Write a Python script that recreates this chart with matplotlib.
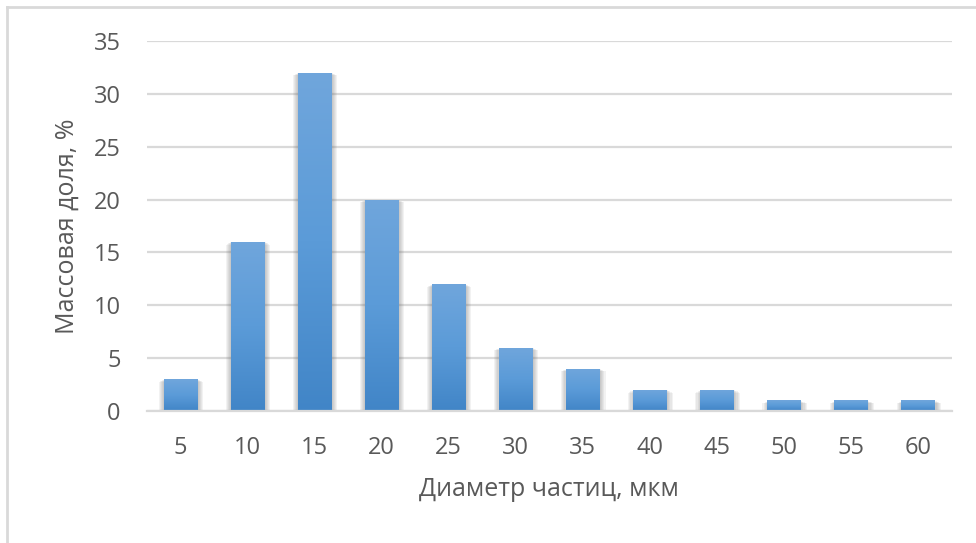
import matplotlib.pyplot as plt
import numpy as np
from matplotlib.colors import LinearSegmentedColormap
from matplotlib.lines import Line2D
from matplotlib.patches import Rectangle

# Particle size distribution
diameters = ['5', '10', '15', '20', '25', '30', '35', '40', '45', '50', '55', '60']
mass_share = [3, 16, 32, 20, 12, 6, 4, 2, 2, 1, 1, 1]

TEXT = '#595959'
GRID = '#d9d9d9'

plt.rcParams['font.family'] = ['Open Sans', 'DejaVu Sans']

fig = plt.figure(figsize=(9.76, 5.43), dpi=100)
ax = fig.add_axes([0.1506, 0.243, 0.8245, 0.6815])

x = np.arange(len(diameters))
width = 0.5
bars = ax.bar(x, mass_share, width=width, color='#5b9bd5', zorder=3)

# soft shadow along the sides of each bar
for b in bars:
    bx, by = b.get_x(), b.get_y()
    bw, bh = b.get_width(), b.get_height()
    for k in range(1, 6):
        dx = 0.016 * k
        ax.add_patch(Rectangle((bx - dx + 0.008, by), bw + 2 * dx, bh - 0.05 * k,
                               facecolor='#6f6f6f', edgecolor='none',
                               alpha=0.09, zorder=2))

# vertical gradient fill, light at top, darker at bottom
cmap = LinearSegmentedColormap.from_list('bar', ['#4185c7', '#5b9bd8', '#70a6dc'])
grad = np.linspace(0, 1, 256).reshape(-1, 1)
for b in bars:
    bx, bw, bh = b.get_x(), b.get_width(), b.get_height()
    im = ax.imshow(grad, cmap=cmap, origin='lower', aspect='auto',
                   extent=[bx, bx + bw, 0, bh], zorder=4)
    im.set_clip_path(b)

ax.set_xlim(-0.5, len(diameters) - 0.5)
ax.set_ylim(0, 35)
ax.set_yticks(range(0, 36, 5))
ax.set_xticks(x)
ax.set_xticklabels(diameters)

ax.grid(axis='y', color=GRID, linewidth=1.6, zorder=0)
ax.set_axisbelow(True)
for side in ['top', 'right', 'left']:
    ax.spines[side].set_visible(False)
ax.spines['bottom'].set_color(GRID)
ax.spines['bottom'].set_linewidth(1.6)
ax.spines['bottom'].set_zorder(5)

ax.tick_params(axis='both', length=0, labelsize=17, colors=TEXT)
ax.tick_params(axis='y', pad=19)
ax.tick_params(axis='x', pad=18)

ax.set_xlabel('Диаметр частиц, мкм', fontsize=18, color=TEXT, labelpad=12)
ax.set_ylabel('Массовая доля, %', fontsize=18, color=TEXT, labelpad=10)

# chart frame edges
fig.add_artist(Line2D([0.0072, 1.0], [0.9871, 0.9871], transform=fig.transFigure,
                      color=GRID, linewidth=2))
fig.add_artist(Line2D([0.0072, 0.0072], [0.0, 0.9871], transform=fig.transFigure,
                      color=GRID, linewidth=2))

fig.savefig('out.png', dpi=100)
